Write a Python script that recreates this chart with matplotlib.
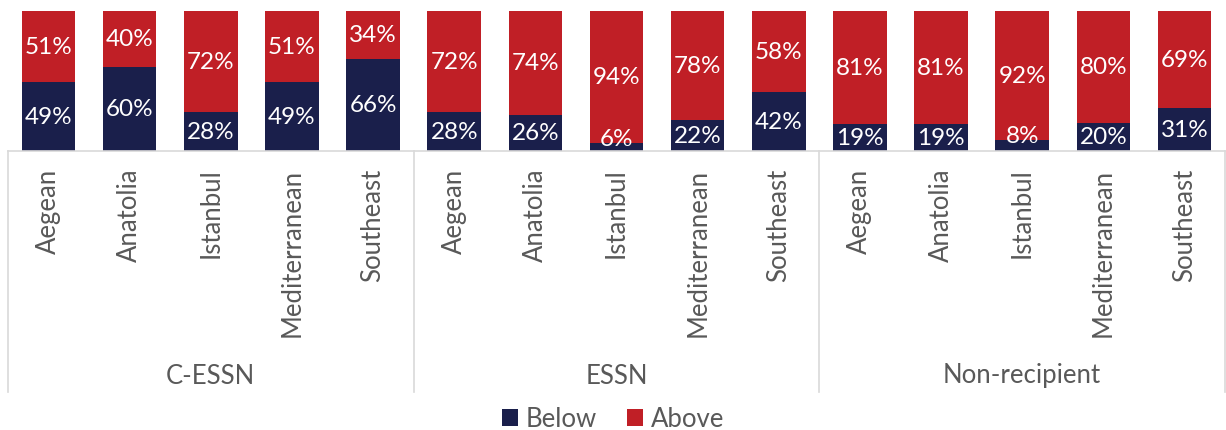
import numpy as np
import matplotlib.pyplot as plt
import matplotlib.transforms as mtransforms

plt.rcParams['font.family'] = ['Lato', 'DejaVu Sans']

groups = ['C-ESSN', 'ESSN', 'Non-recipient']
regions = ['Aegean', 'Anatolia', 'Istanbul', 'Mediterranean', 'Southeast']
below = [49, 60, 28, 49, 66,
         28, 26, 6, 22, 42,
         19, 19, 8, 20, 31]
above = [51, 40, 72, 51, 34,
         72, 74, 94, 78, 58,
         81, 81, 92, 80, 69]

navy = '#1a1f4b'
red = '#c01f26'
grey = '#595959'
line_grey = '#d9d9d9'

fig = plt.figure(figsize=(12.26, 4.31), dpi=100)
ax = fig.add_axes([8/1226, 279/431, 1217/1226, 140/431])

n = len(below)
x = np.arange(n)
b = np.array(below) / 100
a = np.array(above) / 100
ax.bar(x, b, width=0.66, color=navy, label='Below')
ax.bar(x, a, width=0.66, bottom=b, color=red, label='Above')

for i in range(n):
    if below[i] >= 10:
        yb = b[i] / 2
    else:
        yb = b[i] + 0.03
    ax.text(x[i], yb, f'{below[i]}%', ha='center', va='center',
            color='white', fontsize=17.5)
    ax.text(x[i], b[i] + a[i] / 2, f'{above[i]}%', ha='center', va='center',
            color='white', fontsize=17.5)

ax.set_xlim(-0.5, n - 0.5)
ax.set_ylim(0, 1)
ax.set_yticks([])
ax.set_xticks(x)
ax.set_xticklabels(regions * len(groups), rotation=90, va='top',
                   fontsize=18.5, color=grey)
ax.tick_params(axis='x', length=0, pad=12)
for s in ['top', 'left', 'right']:
    ax.spines[s].set_visible(False)
ax.spines['bottom'].set_color(line_grey)
ax.spines['bottom'].set_linewidth(1.2)

# group dividers and group names under the region labels
trans = mtransforms.blended_transform_factory(ax.transData, ax.transAxes)
for k in range(len(groups) + 1):
    xs = -0.5 + 5 * k
    ax.plot([xs, xs], [0, -1.72], transform=trans, color=line_grey,
            lw=1.2, clip_on=False)
for k, g in enumerate(groups):
    ax.text(5 * k + 2, -1.6, g, transform=trans, ha='center', va='center',
            fontsize=18.5, color=grey)

fig.legend(loc='center', bbox_to_anchor=(0.5, 11/431), ncol=2,
           frameon=False, fontsize=18.5, labelcolor=grey, handlelength=0.6,
           handleheight=0.6, handletextpad=0.3, columnspacing=1.2,
           borderpad=0, borderaxespad=0)

fig.savefig('out.png', dpi=100)
